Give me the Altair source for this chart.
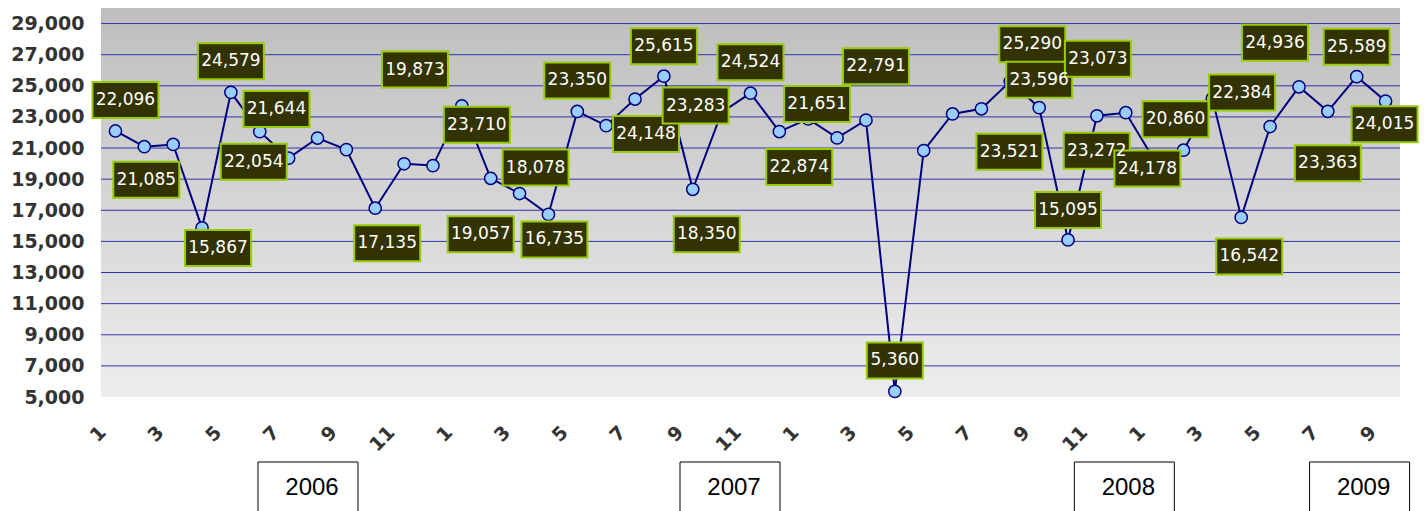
import altair as alt
import pandas as pd

# ---------------- data ----------------
years = [2006] * 12 + [2007] * 12 + [2008] * 12 + [2009] * 9
months = list(range(1, 13)) * 3 + list(range(1, 10))
values = [
    22096, 21085, 21230, 15867, 24579, 22054, 20350, 21644, 20900, 17135, 19990, 19873,
    23710, 19057, 18078, 16735, 23350, 22440, 24148, 25615, 18350, 23283, 24524, 22060,
    22874, 21651, 22791, 5360, 20840, 23190, 23521, 25290, 23596, 15095, 23073, 23272,
    20200, 20860, 24178, 16542, 22384, 24936, 23363, 25589, 24015,
]
# which points carry a data label (1 = labelled)
labelled = [
    1, 1, 0, 1, 1, 1, 0, 1, 0, 1, 0, 1,
    1, 1, 1, 1, 1, 0, 1, 1, 1, 1, 1, 0,
    1, 1, 1, 1, 0, 0, 1, 1, 1, 1, 1, 1,
    0, 1, 1, 1, 1, 1, 1, 1, 1,
]
# manual nudges of the data labels (pixels: right, down), as dragged in the original
label_nudge = [
    (10, -31), (2, 33), (0, 0), (16, 20), (0, -31), (-6, 30), (0, 0), (-41, -29), (0, 0), (12, 35), (0, 0), (-18, -96),
    (15, 19), (-10, 56), (16, -26), (6, 25), (0, -31), (0, 0), (11, 35), (0, -30), (14, 45), (-26, -7), (0, -31), (0, 0),
    (-9, 48), (-20, -34), (10, -54), (0, -31), (0, 0), (0, 0), (28, 43), (22, -37), (0, -28), (0, -30), (1, -57), (-29, 38),
    (0, 0), (-8, -31), (-65, 70), (8, 39), (-28, -34), (-24, -44), (0, 52), (0, -30), (-1, 23),
]
year_boxes = ["2006", "2007", "2008", "2009"]
year_box_at = [6.67, 21.29, 34.95, 43.1]   # position along the month axis
y_ticks = list(range(5000, 30000, 2000))
grid_vals = list(range(7000, 30000, 2000))

# ---------------- layout ----------------
W, H = 1299, 389
N = len(values)
Y0, Y1 = 5000, 30000
ppx = W / N                 # pixels per month
ppy = H / (Y1 - Y0)         # pixels per unit

rows = []
for i, (yr, m, v, lab, (dx, dy)) in enumerate(zip(years, months, values, labelled, label_nudge)):
    rows.append(dict(idx=i, year=yr, month=m, value=v, lab=lab, dx=dx, dy=dy))
df = pd.DataFrame(rows)
ldf = df[df.lab == 1].copy()
ldf["text"] = ldf["value"].map(lambda v: f"{v:,}")
ldf["lx"] = ldf["idx"] + ldf["dx"] / ppx
ldf["ly"] = ldf["value"] - ldf["dy"] / ppy
ldf["bw"] = ldf["text"].str.len() * 10 + 6
ldf["bx0"] = ldf["lx"] - ldf["bw"] / 2 / ppx
ldf["bx1"] = ldf["lx"] + ldf["bw"] / 2 / ppx
ldf["by0"] = ldf["ly"] - 18 / ppy
ldf["by1"] = ldf["ly"] + 18 / ppy

ydf = pd.DataFrame({"year": year_boxes, "at": year_box_at})
ydf["x0"] = ydf["at"] - 50 / ppx
ydf["x1"] = ydf["at"] + 50 / ppx
ydf["tx"] = ydf["at"] + 4 / ppx

gdf = pd.DataFrame({"g": grid_vals})

xscale = alt.Scale(domain=[-0.5, N - 0.5], nice=False, zero=False)
yscale = alt.Scale(domain=[Y0, Y1], nice=False, zero=False)

xaxis = alt.Axis(
    values=list(range(0, N, 2)), labelExpr="(datum.value % 12) + 1",
    title=None, domain=False, ticks=False, grid=False,
    labelAngle=315, labelAlign="right", labelBaseline="middle",
    labelOffset=-13, labelPadding=32, labelOverlap=False, labelFlush=False,
    labelFont="DejaVu Sans", labelFontWeight="bold", labelFontSize=19, labelColor="#333333",
)
yaxis = alt.Axis(
    values=y_ticks, format=",.0f", title=None, domain=False, ticks=False, grid=False,
    labelPadding=17, labelFont="DejaVu Sans", labelFontWeight="bold", labelFontSize=19,
    labelColor="#333333", labelOverlap=False,
)


def X(field):
    return alt.X(field, type="quantitative", scale=xscale, axis=xaxis, title=None)


def Y(field):
    return alt.Y(field, type="quantitative", scale=yscale, axis=yaxis, title=None)


bg = alt.Chart(pd.DataFrame({"a": [0]})).mark_rect(
    fill=alt.LinearGradient(
        gradient="linear", x1=0, y1=0, x2=0, y2=1,
        stops=[alt.GradientStop(offset=0, color="#BEBEBE"), alt.GradientStop(offset=1, color="#EDEDED")],
    )
).encode(x=alt.value(0), x2=alt.value(W), y=alt.value(0), y2=alt.value(H))

grid = alt.Chart(gdf).mark_rule(color="#3434AC", strokeWidth=1).encode(y=Y("g"))

base = alt.Chart(df)
line = base.mark_line(color="#000080", strokeWidth=2).encode(x=X("idx"), y=Y("value"))
pts = base.mark_point(shape="circle", filled=True, fill="#99CCFF", stroke="#000080",
                      strokeWidth=1.5, size=150, opacity=1).encode(x=X("idx"), y=Y("value"))

lbox = alt.Chart(ldf).mark_rect(fill="#333300", stroke="#99CC00", strokeWidth=2).encode(
    x=X("bx0"), x2="bx1:Q", y=Y("by0"), y2="by1:Q",
)
ltext = alt.Chart(ldf).mark_text(font="DejaVu Sans", fontSize=17, color="white",
                                 align="center", baseline="middle").encode(
    x=X("lx"), y=Y("ly"), text="text:N",
)

ybox = alt.Chart(ydf).mark_rect(fill="white", stroke="black", strokeWidth=1).encode(
    x=X("x0"), x2="x1:Q", y=alt.value(454), y2=alt.value(520)
)
ytext = alt.Chart(ydf).mark_text(font="Liberation Sans", fontSize=24, color="black",
                                 align="center", baseline="middle").encode(
    x=X("tx"), y=alt.value(480), text="year:N"
)

chart = alt.layer(bg, grid, line, pts, lbox, ltext, ybox, ytext).properties(
    width=W, height=H,
    autosize=alt.AutoSizeParams(type="none"),
    padding={"left": 93, "top": 0, "right": 19, "bottom": 115},
).configure_view(stroke=None)

chart.save("out.html", embed_options={"renderer": "svg", "actions": False})
